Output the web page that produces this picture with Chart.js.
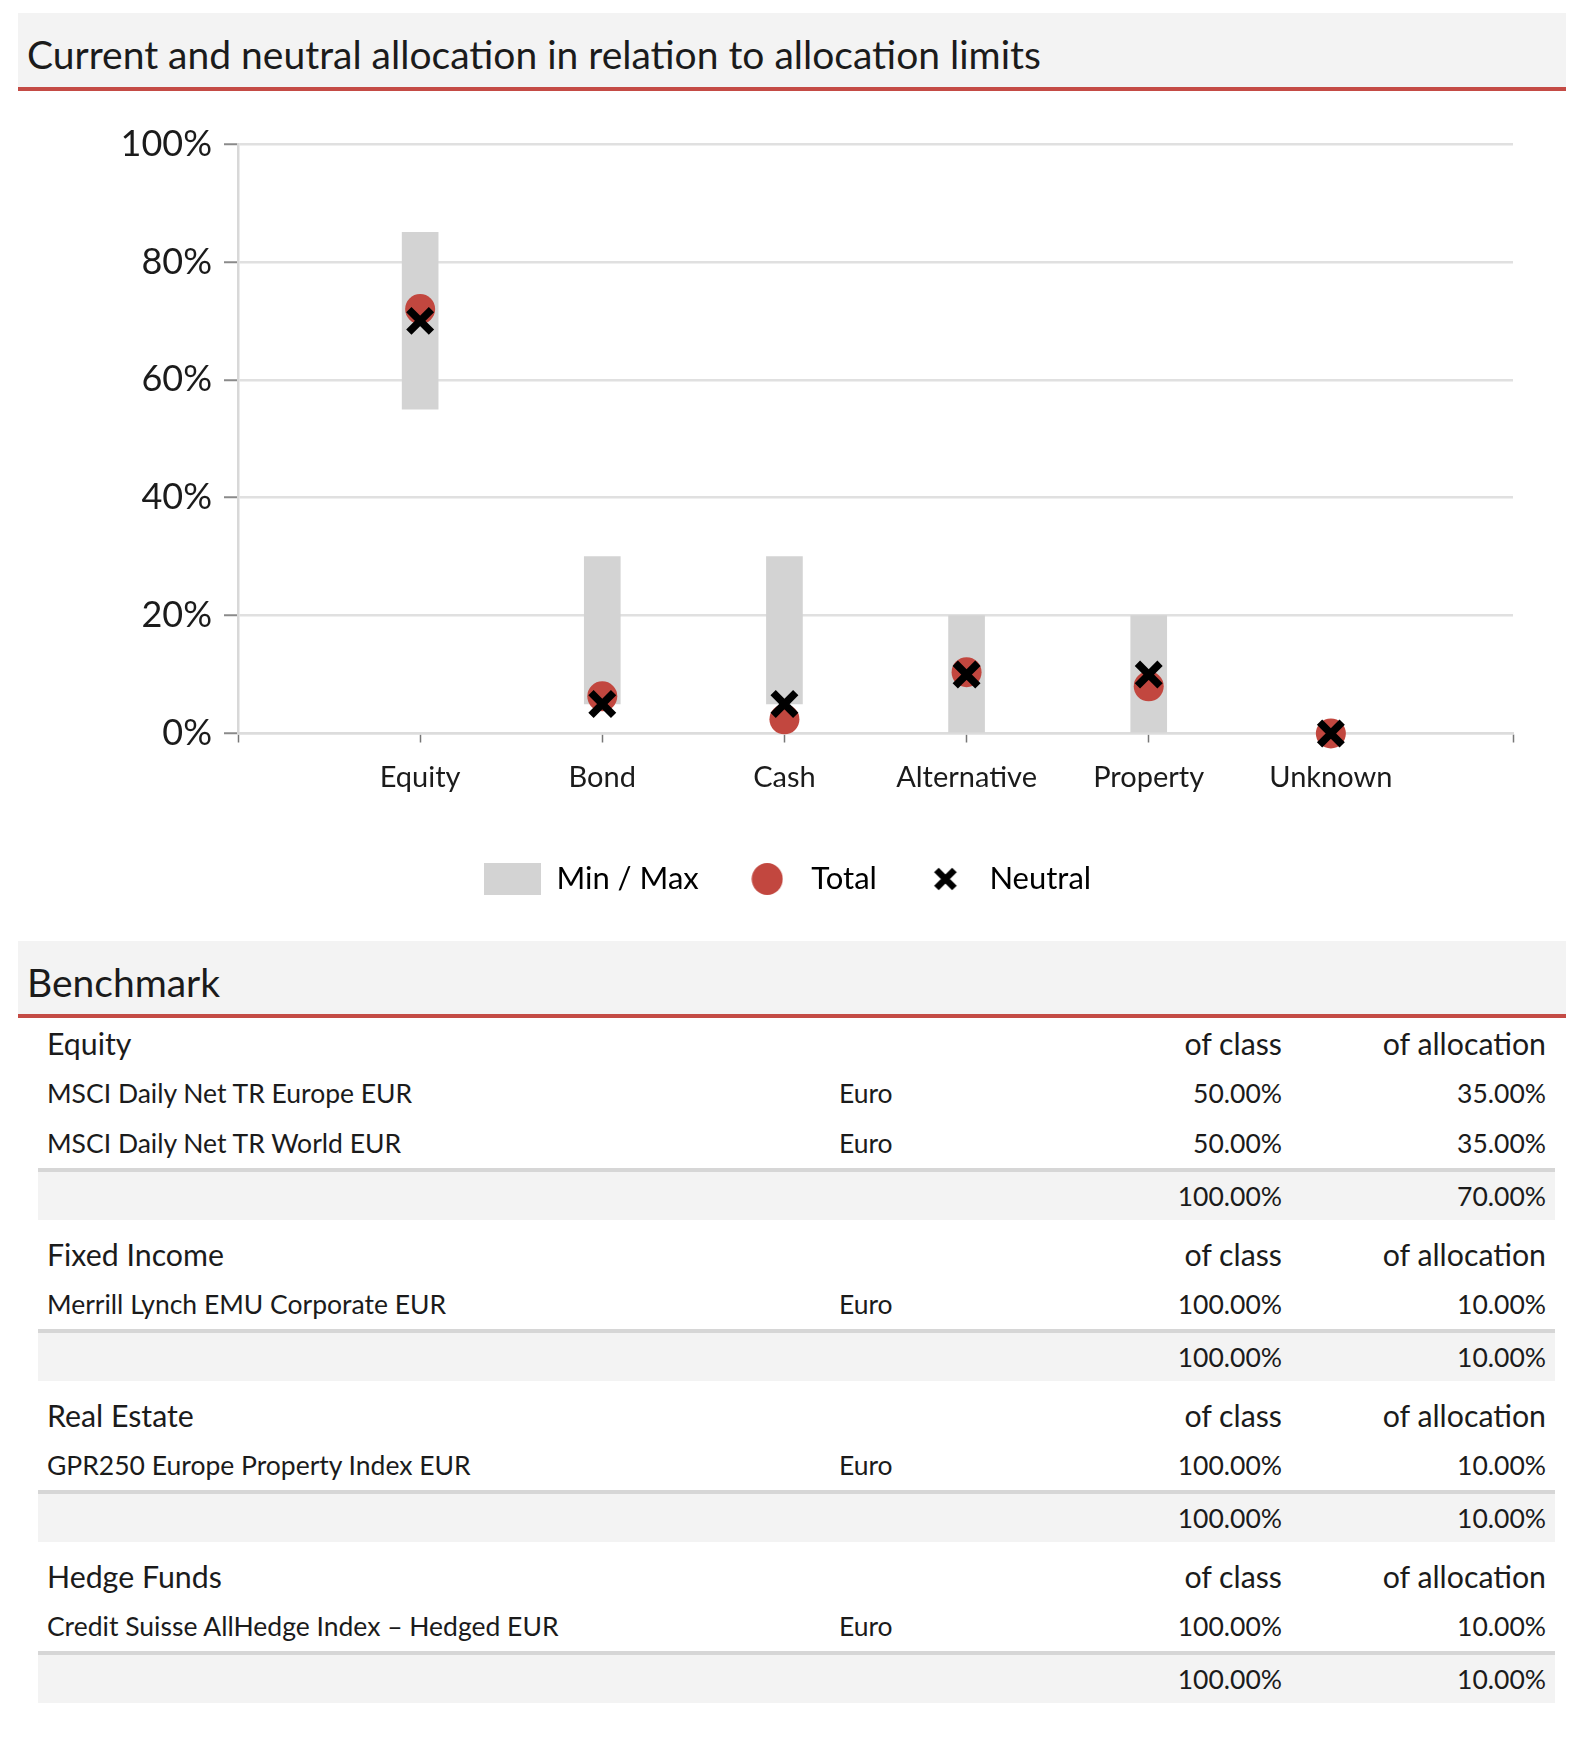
<!DOCTYPE html>
<html>
<head>
<meta charset="utf-8">
<script src="https://cdn.jsdelivr.net/npm/chart.js@4.4.1/dist/chart.umd.min.js"></script>
<style>
  * { box-sizing: border-box; }
  body { margin: 0; background: #fff; font-family: Lato, sans-serif; color: #1b1b1b; }
  #page { position: relative; width: 1582px; height: 1762px; }
  .band { position: absolute; left: 18px; width: 1548px; background: #f3f3f3; border-bottom: 4px solid #c44b45; }
  .band span { position: absolute; left: 9px; font-size: 39px; line-height: 46px; white-space: nowrap; }
  #chartBox { position: absolute; left: 0; top: 90px; width: 1582px; height: 822px; }
  #bench { position: absolute; left: 38px; top: 1018px; width: 1517px; }
  .row { display: flex; align-items: center; height: 50px; font-size: 26.5px; white-space: nowrap; }
  .row.head { font-size: 30.3px; }
  .row.sum { background: #f3f3f3; border-top: 4px solid #d6d6d6; height: 52px; margin-bottom: 9px; }
  .c1 { width: 792px; padding-left: 9px; }
  .c2 { width: 208px; padding-left: 9px; }
  .c3 { width: 252px; padding-right: 8px; text-align: right; }
  .c4 { width: 265px; padding-right: 9px; text-align: right; }
</style>
</head>
<body>
<div id="page">
  <div class="band" style="top:13px;height:78px;"><span style="top:18px;">Current and neutral allocation in relation to allocation limits</span></div>
  <div id="chartBox"><canvas id="allocChart"></canvas></div>
  <div class="band" style="top:941px;height:77px;"><span style="top:18px;">Benchmark</span></div>
  <div id="bench"></div>
</div>
<script>
// chart data
const categories = ['Equity', 'Bond', 'Cash', 'Alternative', 'Property', 'Unknown'];
const minLimits = [55, 5, 5, 0, 0, null];
const maxLimits = [85, 30, 30, 20, 20, null];
const totalAlloc = [72, 6.3, 2.4, 10.4, 8, 0];
const neutralAlloc = [70, 5, 5, 10, 10, 0];
const legendLabels = ['Min / Max', 'Total', 'Neutral'];

// benchmark table data
const groupNames = ['Equity', 'Fixed Income', 'Real Estate', 'Hedge Funds'];
const groupBenchmarks = [
    ['MSCI Daily Net TR Europe EUR', 'MSCI Daily Net TR World EUR'],
    ['Merrill Lynch EMU Corporate EUR'],
    ['GPR250 Europe Property Index EUR'],
    ['Credit Suisse AllHedge Index \u2013 Hedged EUR']
];
const groupCurrency = [['Euro', 'Euro'], ['Euro'], ['Euro'], ['Euro']];
const groupOfClass = [[50, 50], [100], [100], [100]];
const groupOfAlloc = [[35, 35], [10], [10], [10]];

const RED = '#c2473f';
const GREY_BAR = '#d3d3d3';

// 表格
const pct = v => v.toFixed(2) + '%';
let html = '';
groupNames.forEach((name, g) => {
    html += `<div class="row head"><div class="c1">${name}</div><div class="c2"></div><div class="c3">of class</div><div class="c4">of allocation</div></div>`;
    groupBenchmarks[g].forEach((b, i) => {
        html += `<div class="row"><div class="c1">${b}</div><div class="c2">${groupCurrency[g][i]}</div><div class="c3">${pct(groupOfClass[g][i])}</div><div class="c4">${pct(groupOfAlloc[g][i])}</div></div>`;
    });
    const sumClass = groupOfClass[g].reduce((a, b) => a + b, 0);
    const sumAlloc = groupOfAlloc[g].reduce((a, b) => a + b, 0);
    html += `<div class="row sum"><div class="c1"></div><div class="c2"></div><div class="c3">${pct(sumClass)}</div><div class="c4">${pct(sumAlloc)}</div></div>`;
});
document.getElementById('bench').innerHTML = html;

// legend icons
function makeIcon(w, h, draw) {
    const c = document.createElement('canvas');
    c.width = w; c.height = h;
    draw(c.getContext('2d'));
    return c;
}
const legendIcons = [
    makeIcon(57, 32, ctx => { ctx.fillStyle = GREY_BAR; ctx.fillRect(0, 0, 57, 32); }),
    makeIcon(32, 32, ctx => { ctx.fillStyle = RED; ctx.beginPath(); ctx.ellipse(16, 16, 15.5, 16, 0, 0, Math.PI * 2); ctx.fill(); }),
    makeIcon(26, 26, ctx => {
        ctx.strokeStyle = '#000'; ctx.lineWidth = 6.5;
        ctx.beginPath(); ctx.moveTo(4, 4); ctx.lineTo(22, 22); ctx.moveTo(22, 4); ctx.lineTo(4, 22); ctx.stroke();
    })
];

Chart.defaults.font.family = 'Lato';
Chart.defaults.color = '#1b1b1b';

const barData = [];
categories.forEach((c, i) => {
    if (minLimits[i] !== null) barData.push({ x: i + 1, y: [minLimits[i], maxLimits[i]] });
});

new Chart(document.getElementById('allocChart'), {
    type: 'scatter',
    data: {
        datasets: [
            { type: 'bar', label: legendLabels[0], data: barData, backgroundColor: GREY_BAR, barThickness: 36, order: 3 },
            { label: legendLabels[1], data: totalAlloc.map((v, i) => ({ x: i + 1, y: v })), pointRadius: 15, pointBackgroundColor: RED, pointBorderWidth: 0, clip: false, order: 2 },
            { label: legendLabels[2], data: neutralAlloc.map((v, i) => ({ x: i + 1, y: v })), pointStyle: 'crossRot', pointRadius: 16, pointBorderColor: '#000', pointBorderWidth: 7.5, clip: false, order: 1 }
        ]
    },
    options: {
        responsive: true,
        maintainAspectRatio: false,
        animation: false,
        layout: { padding: { left: 62, right: 69, top: 54, bottom: 7.5 } },
        plugins: {
            tooltip: { enabled: false },
            legend: {
                position: 'bottom',
                labels: {
                    usePointStyle: true,
                    pointStyleWidth: 57,
                    boxHeight: 32,
                    padding: 40,
                    font: { size: 31 },
                    generateLabels: () => legendLabels.map((t, i) => ({
                        text: t, datasetIndex: i, pointStyle: legendIcons[i], hidden: false,
                        lineWidth: 0, fillStyle: 'transparent', strokeStyle: 'transparent'
                    }))
                }
            }
        },
        scales: {
            x: {
                type: 'linear', min: 0, max: 7, offset: false,
                afterFit: s => { s.height = 90; },
                ticks: { stepSize: 1, autoSkip: false, maxRotation: 0, padding: 18, font: { size: 29 },
                         callback: v => categories[v - 1] || '' },
                grid: { drawOnChartArea: false, offset: false, tickLength: 9, tickColor: '#777', tickWidth: 1.5 },
                border: { color: '#dcdcdc', width: 2.5 }
            },
            y: {
                min: 0, max: 100,
                afterFit: s => { s.width = 176; },
                ticks: { stepSize: 20, padding: 12, font: { size: 36 }, callback: v => v + '%' },
                grid: { color: '#e0e0e0', lineWidth: 2.5, tickColor: '#8a8a8a', tickWidth: 2, tickLength: 14 },
                border: { color: '#d8d8d8', width: 2.5 }
            }
        }
    }
});
</script>
</body>
</html>
